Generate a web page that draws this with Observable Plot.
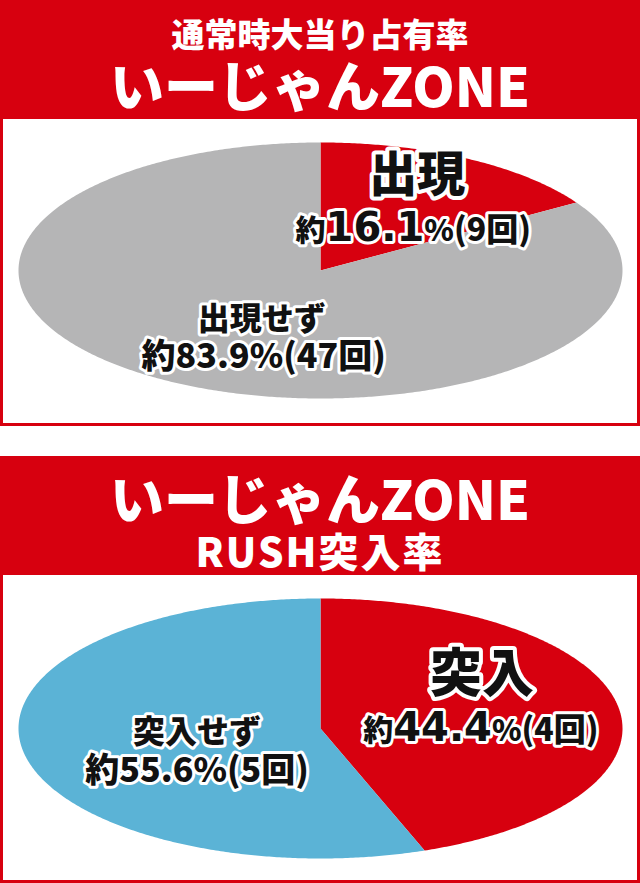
<!DOCTYPE html>
<html><head><meta charset="utf-8">
<script src="https://cdn.jsdelivr.net/npm/d3@7"></script>
<script src="https://cdn.jsdelivr.net/npm/@observablehq/plot@0.6"></script>
<style>
html,body{margin:0;padding:0;background:#fff;}
body{width:640px;font-family:"Noto Sans CJK JP","Noto Sans",sans-serif;}
.header{position:relative;height:119px;background:#d7000f;color:#fff;font-weight:900;}
.header div{position:absolute;left:0;right:0;text-align:center;line-height:0.9;transform:translateY(-50%);white-space:nowrap;}
.box{box-sizing:border-box;border:3px solid #d7000f;border-top:none;}
.box svg{display:block;}
.gap{height:30px;}
</style></head>
<body>
<div class="header" id="h1"></div>
<div class="box" id="b1" style="height:307px"></div>
<div class="gap"></div>
<div class="header" id="h2"></div>
<div class="box" id="b2" style="height:308px"></div>
<script>
// ---- data ----
const panel1Titles = ["通常時大当り占有率", "いーじゃんZONE"];
const panel1Labels = ["出現", "出現せず"];
const panel1Pct = [16.1, 83.9];
const panel1Count = [9, 47];

const panel2Titles = ["いーじゃんZONE", "RUSH突入率"];
const panel2Labels = ["突入", "突入せず"];
const panel2Pct = [44.4, 55.6];
const panel2Count = [4, 5];

// ---- styles ----
const RED = "#d7000f";
const panel1Colors = [RED, "#b5b5b6"];
const panel2Colors = [RED, "#5bb3d6"];
const JP = "'Noto Sans CJK JP', sans-serif";

function header(el, titles, styles) {
  titles.forEach((t, i) => {
    const d = document.createElement("div");
    d.textContent = t;
    Object.assign(d.style, styles[i]);
    el.appendChild(d);
  });
}
header(document.getElementById("h1"), panel1Titles, [
  {top: "34px", fontSize: "33px"},
  {top: "84px", fontSize: "54px"}
]);
header(document.getElementById("h2"), panel2Titles, [
  {top: "41px", fontSize: "54px"},
  {top: "94px", fontSize: "40px", letterSpacing: "2px"}
]);

const valueText = d => `約${d.pct}%(${d.count}回)`;

function pie(labels, pct, counts, colors, cfg) {
  const rows = labels.map((label, i) => ({label, pct: pct[i], count: counts[i], color: colors[i]}));
  const slices = d3.pie().sort(null).value(d => d.pct)(rows);
  const marks = [];
  slices.forEach(s => {
    const n = Math.max(2, Math.ceil((s.endAngle - s.startAngle) / (Math.PI / 360)));
    const pts = [{x: 0, y: 0}];
    for (let k = 0; k <= n; k++) {
      const a = s.startAngle + (s.endAngle - s.startAngle) * k / n;
      pts.push({x: Math.sin(a), y: Math.cos(a)});
    }
    marks.push(Plot.line(pts, {x: "x", y: "y", fill: s.data.color, stroke: "none", curve: "linear-closed"}));
  });
  const mid = s => (s.startAngle + s.endAngle) / 2;
  slices.forEach((s, i) => {
    const o = cfg.labels[i];
    const common = {
      x: d => Math.sin(mid(d)) * 0.6,
      y: d => Math.cos(mid(d)) * 0.6,
      fill: "#111", stroke: "#fff", strokeLinejoin: "round", paintOrder: "stroke",
      fontWeight: 900, fontFamily: JP, textAnchor: "middle"
    };
    marks.push(Plot.text([s], {...common, text: d => d.data.label, dx: o.tdx, dy: o.tdy, fontSize: o.tsize, strokeWidth: o.tstroke}));
    marks.push(Plot.text([s], {...common, text: d => valueText(d.data), dx: o.vdx, dy: o.vdy, fontSize: o.vsize, strokeWidth: 6}));
  });
  const chart = Plot.plot({
    width: 634, height: cfg.height,
    marginLeft: 15, marginRight: 15, marginTop: cfg.mt, marginBottom: cfg.mb,
    x: {domain: [-1, 1], axis: null},
    y: {domain: [-1, 1], axis: null},
    style: {background: "transparent", overflow: "visible"},
    marks
  });
  // split value labels into differently sized parts
  const texts = Array.from(chart.querySelectorAll("text"));
  slices.forEach((s, i) => {
    const o = cfg.labels[i];
    const want = valueText(s.data);
    texts.filter(t => t.textContent === want).forEach(t => {
      const m = want.match(/^(約)([\d.]+)(%)(.*)$/);
      if (!m) return;
      while (t.firstChild) t.removeChild(t.firstChild);
      const parts = [
        [m[1], o.parts[0], JP],
        [m[2], o.parts[1], o.numFont || JP],
        [m[3], o.parts[2], JP],
        [m[4], o.parts[3], JP]
      ];
      parts.forEach(([str, size, fam]) => {
        const ts = document.createElementNS("http://www.w3.org/2000/svg", "tspan");
        ts.textContent = str;
        ts.setAttribute("font-size", size);
        ts.setAttribute("font-family", fam);
        t.appendChild(ts);
      });
    });
  });
  return chart;
}

document.getElementById("b1").appendChild(pie(panel1Labels, panel1Pct, panel1Count, panel1Colors, {
  height: 304, mt: 23, mb: 25,
  labels: [
    {tdx: 9, tdy: -28, tsize: 48, tstroke: 8, vdx: 5, vdy: 28, vsize: 30, parts: [30, 40, 30, 32], numFont: "'DejaVu Sans', sans-serif"},
    {tdx: 29, tdy: -18, tsize: 32, tstroke: 6, vdx: 31, vdy: 19, vsize: 34, parts: [34, 34, 34, 34]}
  ]
}));
document.getElementById("b2").appendChild(pie(panel2Labels, panel2Pct, panel2Count, panel2Colors, {
  height: 305, mt: 23, mb: 22,
  labels: [
    {tdx: -17, tdy: -39, tsize: 52, tstroke: 8, vdx: -18, vdy: 17, vsize: 30, parts: [30, 40, 30, 32], numFont: "'DejaVu Sans', sans-serif"},
    {tdx: 55, tdy: -9, tsize: 32, tstroke: 6, vdx: 55, vdy: 29, vsize: 34, parts: [34, 34, 34, 34]}
  ]
}));
</script>
</body></html>
